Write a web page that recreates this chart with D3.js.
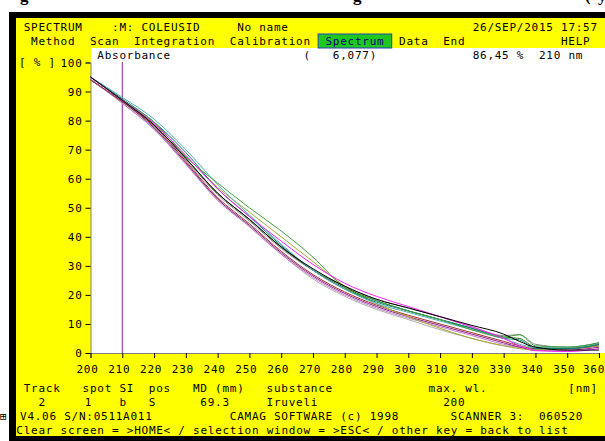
<!DOCTYPE html>
<html>
<head>
<meta charset="utf-8">
<script src="https://cdn.jsdelivr.net/npm/d3@7"></script>
<style>
body { margin: 0; background: #fff; }
text { font-family: "DejaVu Sans Mono", monospace; font-size: 11px; letter-spacing: 0.74px; fill: #000; white-space: pre; }
</style>
</head>
<body>
<svg width="605" height="441"></svg>
<script>
// wavelengths (nm) and absorbance (%) for each track
var wavelengths = [200,210,220,230,240,250,260,270,280,290,300,310,320,330,335,340,350,360];
var black     = [95,87,78.5,67,55,46,36.5,29,23,18.5,15.5,12.5,9.5,6.5,4,2,1,1];
var gray      = [95,87,78,66.5,54.5,45.5,36,28.5,23,18.5,15.5,12.5,9,6,6.3,3,2,3.5];
var lightgray = [94,86,77,65,53,43.5,34,25.5,19.5,15,11.5,8,5,2.5,2,1.5,1.5,2.5];
var green     = [95,87,79.5,67.5,58.5,50,42,33,22.5,18,14.5,11.5,8,5.5,6.3,2.5,2,3.5];
var magenta   = [95,87,79,68,56.5,47,38.5,30.5,24,19.5,16,12.5,9,5,2.5,0.8,0.5,1.5];
var olive     = [95,87,79,68,57,48.5,40,31.5,23,17,12.5,8.5,5,2.5,1.5,1,1.5,2.5];
var teal      = [95,87.5,79.5,69,56.5,47,37,28.5,22,17.5,14.5,11.5,8.5,5,4.5,1.5,1.5,3];
var cyan      = [95,88,80.5,70,58,47.5,37.5,28.5,22,17,14,11,8,5,3,2,2,3.5];
var darkred   = [94,86.5,78,66,53.5,44.5,35,27,21,16.5,13,10,7,4,2.5,1.5,1.5,2.5];
var purple    = [94,86.5,77.5,65.5,53,44,34.5,26.5,20.5,16,12.5,9.5,6.5,3.5,2,1,1,2];
var orchid    = [94.5,86,77,65,52.5,43.5,34,26,20,15.5,12,9,6,3,2,1,1.5,2.5];
var darkgreen = [95,87,78.5,67,55,46,36.5,28.5,22.5,18,14.5,11.5,8.5,5.5,5,2,1.5,3];

var tracks = [
  {values: lightgray, color: '#b0b0b0'},
  {values: gray, color: '#888888'},
  {values: orchid, color: '#c080c8'},
  {values: purple, color: '#902090'},
  {values: darkred, color: '#a03030'},
  {values: olive, color: '#a8a830'},
  {values: darkgreen, color: '#207020'},
  {values: teal, color: '#108080'},
  {values: cyan, color: '#50b0b0'},
  {values: green, color: '#40a040'},
  {values: magenta, color: '#ff20ff'},
  {values: black, color: '#000000'}
];

var xTicks = [200,210,220,230,240,250,260,270,280,290,300,310,320,330,340,350,360];
var yTicks = [0,10,20,30,40,50,60,70,80,90,100];
var markerWl = 210;

var svg = d3.select('svg');

// frame
svg.append('rect').attr('x', 9).attr('y', 12).attr('width', 596).attr('height', 429).attr('fill', '#000');
svg.append('rect').attr('x', 16).attr('y', 18).attr('width', 589).attr('height', 418).attr('fill', '#ffff00');
svg.append('rect').attr('x', 91).attr('y', 48).attr('width', 514).attr('height', 305).attr('fill', '#fff');

// bits of caption above the screenshot
[['g', 20], ['g', 353], ['(', 585], ['y', 598]].forEach(function(c){
  svg.append('text').attr('x', c[1]).attr('y', 1)
    .style('font-family', '"Liberation Serif", serif').style('font-weight', 'bold')
    .style('font-size', '17px').style('letter-spacing', '0').text(c[0]);
});

var col = function(c){ return 9 + c * 7.36; };

function line(str, c, y){
  return svg.append('text').attr('x', col(c)).attr('y', y).text(str);
}

// header rows
line('SPECTRUM', 2, 31);
line(':M: COLEUSID', 14, 31);
line('No name', 31, 31);
line('26/SEP/2015 17:57', 63, 31);

svg.append('rect').attr('x', col(42)).attr('y', 34).attr('width', 10 * 7.36).attr('height', 14)
  .attr('fill', '#1ec81e').attr('stroke', '#2040c0').attr('stroke-width', 1);
line('Method', 3, 45);
line('Scan', 11, 45);
line('Integration', 17, 45);
line('Calibration', 30, 45);
line('Spectrum', 43, 45).style('fill', '#000080');
line('Data', 53, 45);
line('End', 59, 45);
line('HELP', 75, 45);

line('Absorbance', 12, 59);
line('(   6,077)', 40, 59);
line('86,45 %  210 nm', 63, 59);

svg.append('text').attr('x', 19).attr('y', 66).text('[ % ]');

// scales
var x = d3.scaleLinear().domain([200, 360]).range([90.5, 599]);
var y = d3.scaleLinear().domain([0, 100]).range([353, 62.5]);

var yAxis = svg.append('g').attr('transform', 'translate(90.5,0)')
  .call(d3.axisLeft(y).tickValues(yTicks).tickSize(5).tickPadding(3));
var xAxis = svg.append('g').attr('transform', 'translate(0,353)')
  .call(d3.axisBottom(x).tickValues(xTicks).tickSize(5).tickPadding(8));
[yAxis, xAxis].forEach(function(a){
  a.select('.domain').attr('stroke', '#808080');
  a.selectAll('.tick line').attr('stroke', '#000');
  a.selectAll('text').style('font-family', '"DejaVu Sans Mono", monospace')
    .style('font-size', '11px').attr('fill', '#000');
});
yAxis.selectAll('text').attr('dy', '0.36em');
xAxis.selectAll('text').attr('dy', '0.6em').attr('dx', -3.5);
// last label sits against the right edge of the screen
xAxis.selectAll('text').filter(function(d){ return d === 360; })
  .attr('text-anchor', 'end').attr('dx', 5.5);

// marker line at 210 nm
svg.append('line').attr('x1', x(markerWl)).attr('x2', x(markerWl))
  .attr('y1', 62).attr('y2', 353).attr('stroke', '#9020a0').attr('stroke-width', 1);

// spectra
var path = d3.line()
  .x(function(d, i){ return x(wavelengths[i]); })
  .y(function(d){ return y(d); })
  .curve(d3.curveMonotoneX);

svg.selectAll('path.track')
  .data(tracks)
  .enter()
  .append('path')
  .attr('class', 'track')
  .attr('d', function(d){ return path(d.values); })
  .attr('fill', 'none')
  .attr('stroke', function(d){ return d.color; })
  .attr('stroke-width', 1);

// footer rows
line('Track', 2, 392);
line('spot SI', 10, 392);
line('pos', 19, 392);
line('MD (mm)', 25, 392);
line('substance', 35, 392);
line('max. wl.', 57, 392);
line('[nm]', 76, 392);

line('2', 4, 406);
line('1', 10.3, 406);
line('b', 15, 406);
line('S', 19, 406);
line('69.3', 26, 406);
line('Iruveli', 35, 406);
line('200', 59, 406);

svg.append('text').attr('x', 0).attr('y', 420).style('letter-spacing', '0').text('\u229E');
line('V4.06 S/N:0511A011', 1.5, 420);
line('CAMAG SOFTWARE (c) 1998', 30, 420);
line('SCANNER 3:  060520', 60, 420);

line('Clear screen = >HOME< / selection window = >ESC< / other key = back to list', 1, 434);
</script>
</body>
</html>
